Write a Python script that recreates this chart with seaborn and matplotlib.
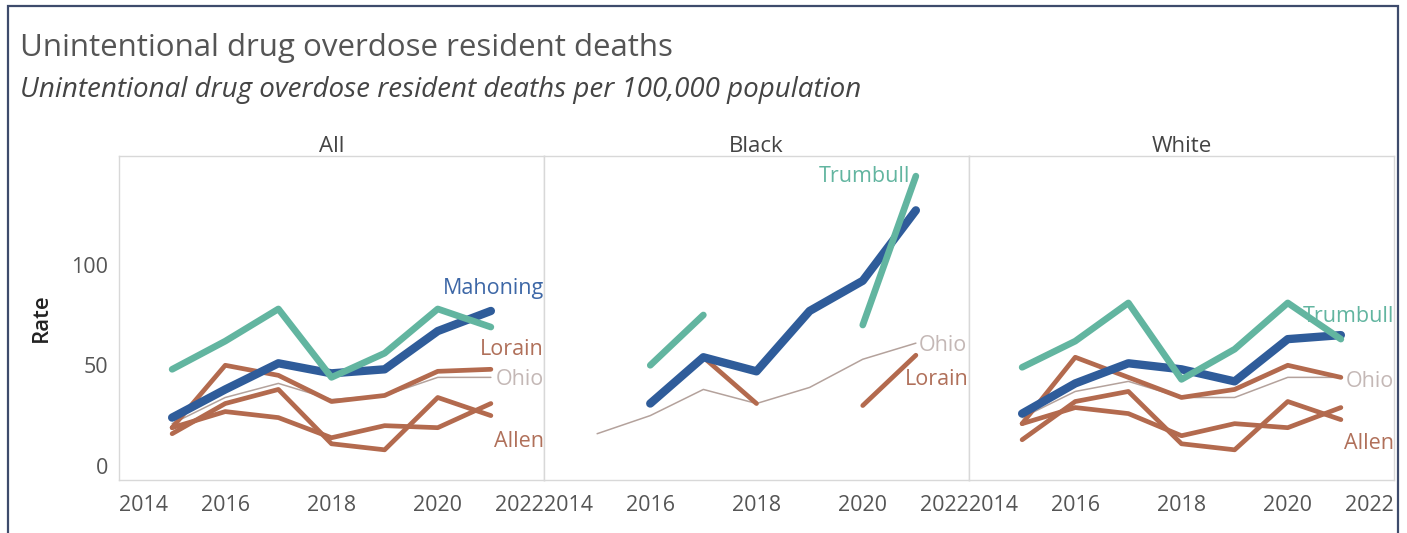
import numpy as np
import pandas as pd
import matplotlib
matplotlib.use("Agg")
import matplotlib.pyplot as plt
from matplotlib.patches import Rectangle
import seaborn as sns

years = [2015, 2016, 2017, 2018, 2019, 2020, 2021]
panels = ["All", "Black", "White"]
nan = np.nan

# rates per 100,000
all_rates = {
    "Trumbull": [48, 62, 78, 44, 56, 78, 69],
    "Mahoning": [24, 38, 51, 46, 48, 67, 77],
    "Lorain":   [19, 50, 45, 32, 35, 47, 48],
    "Ohio":     [21, 34, 41, 33, 35, 44, 44],
    "Allen":    [16, 31, 38, 11, 8, 34, 25],
    "Stark":    [19, 27, 24, 14, 20, 19, 31],
}
black_rates = {
    "Trumbull": [nan, 50, 75, nan, nan, 70, 144],
    "Mahoning": [nan, 31, 54, 47, 77, 92, 127],
    "Lorain":   [nan, nan, 54, 31, nan, 30, 55],
    "Ohio":     [16, 25, 38, 31, 39, 53, 61],
    "Allen":    [nan] * 7,
    "Stark":    [nan] * 7,
}
white_rates = {
    "Trumbull": [49, 62, 81, 43, 58, 81, 63],
    "Mahoning": [26, 41, 51, 48, 42, 63, 65],
    "Lorain":   [21, 54, 44, 34, 38, 50, 44],
    "Ohio":     [24, 37, 42, 34, 34, 44, 44],
    "Allen":    [13, 32, 37, 11, 8, 32, 23],
    "Stark":    [21, 29, 26, 15, 21, 19, 29],
}
x_ticks = [2014, 2016, 2018, 2020, 2022]
y_ticks = [0, 50, 100]

rows = []
for panel, rates in zip(panels, [all_rates, black_rates, white_rates]):
    for county, vals in rates.items():
        seg = 0
        prev_nan = True
        for yr, v in zip(years, vals):
            if np.isnan(v):
                prev_nan = True
                continue
            if prev_nan:
                seg += 1
            prev_nan = False
            rows.append({"panel": panel, "county": county, "year": yr,
                         "rate": v, "seg": seg})
df = pd.DataFrame(rows)

colors = {"Trumbull": "#62b5a0", "Mahoning": "#2f5c9a", "Lorain": "#b36a4e",
          "Ohio": "#b4a29c", "Allen": "#b36a4e", "Stark": "#b36a4e"}
widths = {"Trumbull": 4.8, "Mahoning": 6.0, "Lorain": 3.4,
          "Ohio": 1.1, "Allen": 3.4, "Stark": 3.4}
draw_order = ["Ohio", "Stark", "Allen", "Lorain", "Mahoning", "Trumbull"]

sns.set_theme(style="white")
plt.rcParams["font.family"] = ["Open Sans", "DejaVu Sans"]

fig = plt.figure(figsize=(14.07, 5.33), dpi=100)
fig.patches.append(Rectangle((8 / 1407, -0.05), 1390 / 1407, 1.05 - 6 / 533,
                             transform=fig.transFigure, fill=False,
                             edgecolor="#3e4b6c", lw=1.6))

fig.text(20 / 1407, 1 - 48 / 533, "Unintentional drug overdose resident deaths",
         fontsize=22.5, color="#555555", va="center", ha="left")
fig.text(20 / 1407, 1 - 90 / 533,
         "Unintentional drug overdose resident deaths per 100,000 population",
         fontsize=20, color="#444444", style="italic", va="center", ha="left")

left0 = 119 / 1407
pw = 425 / 1407
bottom = 1 - 480 / 533
height = (480 - 156) / 533

lab_fs = 15.5
labels = {
    "All": [("Mahoning", 2022, 88, "right", "#3d67a6"),
            ("Lorain", 2022, 58, "right", "#b0705a"),
            ("Ohio", 2022, 43, "right", "#c4b8b6"),
            ("Allen", 2022, 12, "right", "#b0705a")],
    "Black": [("Trumbull", 2020.9, 144, "right", "#62b5a0"),
              ("Ohio", 2021.05, 60, "left", "#c4b8b6"),
              ("Lorain", 2022, 43, "right", "#b0705a")],
    "White": [("Trumbull", 2022, 74, "right", "#62b5a0"),
              ("Ohio", 2022, 42, "right", "#c4b8b6"),
              ("Allen", 2022, 11, "right", "#b0705a")],
}

for i, panel in enumerate(panels):
    ax = fig.add_axes([left0 + i * pw, bottom, pw, height])
    sub = df[df["panel"] == panel]
    for county in draw_order:
        cd = sub[sub["county"] == county]
        if cd.empty:
            continue
        for s, sd in cd.groupby("seg"):
            sns.lineplot(data=sd, x="year", y="rate", ax=ax, color=colors[county],
                         linewidth=widths[county], solid_capstyle="round",
                         solid_joinstyle="round", legend=False)
    for name, lx, ly, ha, col in labels[panel]:
        ax.text(lx, ly, name, ha=ha, va="center", fontsize=lab_fs, color=col,
                zorder=1 if name == "Trumbull" and panel == "White" else 5)
    ax.set_xlim(2014, 2022)
    ax.set_ylim(-7, 154)
    ax.set_xlabel("")
    ax.set_ylabel("")
    ax.set_title(panel, fontsize=16, color="#444444", pad=3)
    ax.set_xticks(x_ticks)
    ax.set_xticklabels([str(t) for t in x_ticks])
    tl = ax.get_xticklabels()
    tl[0].set_ha("left")
    tl[-1].set_ha("right")
    ax.tick_params(axis="x", length=0, pad=11, labelsize=15.5, labelcolor="#555555")
    if i == 0:
        ax.set_yticks(y_ticks)
        ax.tick_params(axis="y", length=0, pad=8, labelsize=15.5, labelcolor="#555555")
        ax.set_ylabel("Rate", fontsize=16, color="#222222", labelpad=14,
                      fontweight="semibold")
    else:
        ax.set_yticks([])
    for sp in ax.spines.values():
        sp.set_color("#d8d8d8")
        sp.set_linewidth(1.0)

fig.savefig("out.png", dpi=100)
